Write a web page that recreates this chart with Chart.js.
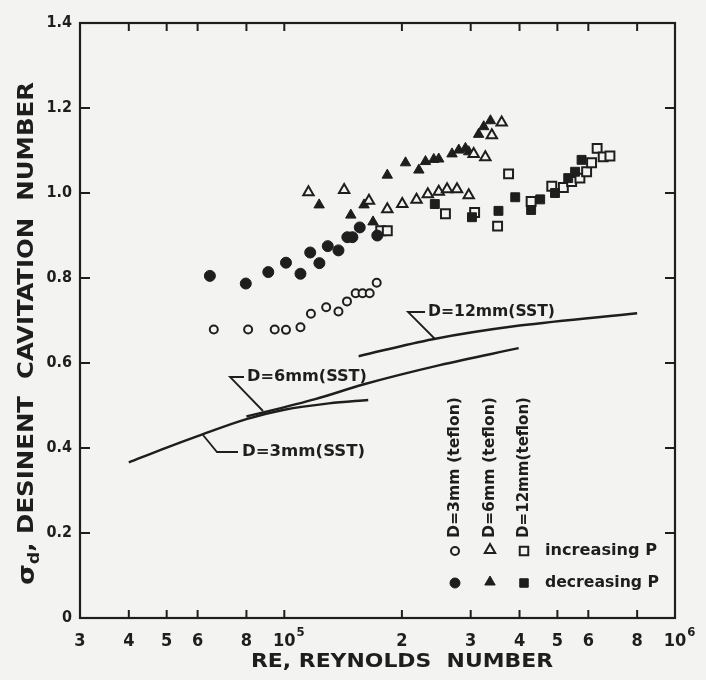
<!DOCTYPE html>
<html><head><meta charset="utf-8">
<script src="https://cdn.jsdelivr.net/npm/chart.js@4.4.1/dist/chart.umd.min.js"></script>
<style>html,body{margin:0;padding:0;background:#f3f3f1;}#wrap{width:706px;height:680px;position:relative;}</style>
</head><body><div id="wrap"><canvas id="c"></canvas></div>
<script>
// ---- tick labels ----
const xTickValues = [30000,40000,50000,60000,80000,100000,200000,300000,400000,500000,600000,800000,1000000];
const xTickLabels = ['3','4','5','6','8','10','2','3','4','5','6','8','10'];
const xTickExponents = ['','','','','','5','','','','','','','6'];
const yTickValues = [0,0.2,0.4,0.6,0.8,1.0,1.2,1.4];
const yTickLabels = ['0','0.2','0.4','0.6','0.8','1.0','1.2','1.4'];

// ---- D=3mm teflon ----
const d3IncRe = [66000,80800,94500,101000,110000,117000,128000,137600,144700,152300,158600,165400,172400];
const d3IncSigma = [0.679,0.679,0.679,0.678,0.684,0.716,0.731,0.721,0.745,0.764,0.764,0.764,0.789];
const d3DecRe = [64500,79700,91000,101000,110000,116500,123000,129200,137600,145000,149400,156000,173000];
const d3DecSigma = [0.805,0.787,0.814,0.836,0.810,0.860,0.835,0.875,0.865,0.896,0.896,0.919,0.900];
// ---- D=6mm teflon ----
const d6IncRe = [115300,142300,164700,183500,200400,218000,233000,248500,261000,276700,296500,305300,327000,339800,360000];
const d6IncSigma = [1.002,1.007,0.982,0.962,0.974,0.984,0.997,1.003,1.009,1.009,0.995,1.092,1.084,1.136,1.166];
const d6DecRe = [122800,148000,160000,168700,183500,204300,221000,229800,241300,248500,268700,279600,290800,296500,314300,323900,337000];
const d6DecSigma = [0.972,0.948,0.972,0.932,1.042,1.071,1.054,1.074,1.079,1.080,1.092,1.101,1.105,1.097,1.138,1.156,1.170];
// ---- D=12mm teflon ----
const d12IncRe = [176500,183500,258500,307000,351500,375000,428300,483700,517900,543800,571000,594000,611600,632000,655000,681500];
const d12IncSigma = [0.911,0.911,0.951,0.954,0.922,1.045,0.980,1.016,1.013,1.027,1.035,1.050,1.071,1.105,1.085,1.087];
const d12DecRe = [242800,302200,353300,390000,428300,451800,493000,533000,555000,576600];
const d12DecSigma = [0.974,0.943,0.958,0.990,0.960,0.985,1.000,1.035,1.050,1.078];
// ---- SST curves ----
const sst3Re = [40000,50000,60000,80000,100000,130000,164000];
const sst3Sigma = [0.366,0.401,0.428,0.468,0.490,0.505,0.513];
const sst6Re = [80000,120000,160000,250000,398000];
const sst6Sigma = [0.474,0.515,0.550,0.595,0.635];
const sst12Re = [155000,240000,400000,800000];
const sst12Sigma = [0.616,0.656,0.688,0.717];

const INK = '#1e1e1e';
const BG = '#f3f3f1';
const FONT = '"DejaVu Sans Condensed","Liberation Sans Narrow","DejaVu Sans",sans-serif';

function pts(xs, ys){ return xs.map((x,i)=>({x:x, y:ys[i]})); }
function scatterDs(xs, ys, style, filled, r){
  return {type:'scatter', data:pts(xs,ys), pointStyle:style, pointRadius:r, pointHoverRadius:r,
    borderColor:INK, borderWidth:filled?1:2, backgroundColor:filled?INK:BG, showLine:false};
}
function lineDs(xs, ys){
  return {type:'line', data:pts(xs,ys), borderColor:INK, borderWidth:2.5, pointRadius:0,
    cubicInterpolationMode:'monotone', fill:false};
}

function marker(ctx, style, x, y, r, filled){
  ctx.save();
  ctx.lineWidth = filled?1:2; ctx.strokeStyle = INK; ctx.fillStyle = filled?INK:BG;
  ctx.beginPath();
  if(style==='circle'){ ctx.arc(x,y,r,0,Math.PI*2); }
  else if(style==='triangle'){
    for(let k=0;k<3;k++){ const a=k*2*Math.PI/3; const px=x+Math.sin(a)*r, py=y-Math.cos(a)*r; k?ctx.lineTo(px,py):ctx.moveTo(px,py);} ctx.closePath();
  } else { const s=Math.SQRT1_2*r; ctx.rect(x-s,y-s,2*s,2*s); }
  ctx.fill(); ctx.stroke(); ctx.restore();
}
// draw text starting at (x,y) (left, middle) stretched horizontally to a given width
function fitText(ctx, text, x, y, width, font){
  ctx.save(); ctx.font=font; ctx.textAlign='left'; ctx.textBaseline='middle';
  const w=ctx.measureText(text).width;
  ctx.translate(x,y); ctx.scale(width/w,1); ctx.fillText(text,0,0); ctx.restore();
}

const decor = {
  id:'decor',
  beforeDraw(chart){
    const ctx=chart.ctx; ctx.save(); ctx.fillStyle=BG; ctx.fillRect(0,0,chart.width,chart.height); ctx.restore();
  },
  afterDatasetsDraw(chart){
    const ctx=chart.ctx, a=chart.chartArea, xs=chart.scales.x, ys=chart.scales.y;
    ctx.save();
    ctx.strokeStyle=INK; ctx.fillStyle=INK; ctx.lineWidth=2.2;
    ctx.strokeRect(a.left,a.top,a.right-a.left,a.bottom-a.top);
    // inward ticks
    ctx.lineWidth=2;
    xTickValues.forEach(v=>{
      if(v===xs.min||v===xs.max) return;
      const px=xs.getPixelForValue(v);
      ctx.beginPath(); ctx.moveTo(px,a.bottom); ctx.lineTo(px,a.bottom-8); ctx.stroke();
      ctx.beginPath(); ctx.moveTo(px,a.top); ctx.lineTo(px,a.top+8); ctx.stroke();
    });
    yTickValues.forEach(v=>{
      if(v===ys.min||v===ys.max) return;
      const py=ys.getPixelForValue(v);
      ctx.beginPath(); ctx.moveTo(a.left,py); ctx.lineTo(a.left+10,py); ctx.stroke();
      ctx.beginPath(); ctx.moveTo(a.right,py); ctx.lineTo(a.right-10,py); ctx.stroke();
    });
    // x tick labels
    ctx.textBaseline='middle';
    xTickValues.forEach((v,i)=>{
      const px=xs.getPixelForValue(v);
      ctx.font='bold 18px '+FONT; ctx.textAlign='center';
      const base=xTickLabels[i], ex=xTickExponents[i];
      if(ex){
        const w=ctx.measureText(base).width;
        ctx.fillText(base,px,a.bottom+23);
        ctx.font='bold 13px '+FONT; ctx.textAlign='left';
        ctx.fillText(ex,px+w/2+1,a.bottom+15);
      } else ctx.fillText(base,px,a.bottom+23);
    });
    // y tick labels
    ctx.font='bold 16px '+FONT; ctx.textAlign='right';
    yTickValues.forEach((v,i)=>{ ctx.fillText(yTickLabels[i],a.left-8,ys.getPixelForValue(v)); });
    // x axis title
    fitText(ctx,'RE, REYNOLDS  NUMBER',251,662,302,'bold 20px '+FONT);
    // y axis title (rotated) with subscript d
    ctx.save(); ctx.translate(28,585); ctx.rotate(-Math.PI/2);
    ctx.textAlign='left'; ctx.textBaseline='middle';
    const f1='bold 23px '+FONT, f2='bold 15px '+FONT, f3='bold 21px '+FONT, rest=', DESINENT  CAVITATION  NUMBER';
    ctx.font=f1; const w1=ctx.measureText('σ').width;
    ctx.font=f2; const w2=ctx.measureText('d').width;
    ctx.font=f3; const w3=ctx.measureText(rest).width;
    ctx.scale(503/(w1+w2+w3),1);
    ctx.font=f1; ctx.fillText('σ',0,0);
    ctx.font=f2; ctx.fillText('d',w1,7);
    ctx.font=f3; ctx.fillText(rest,w1+w2,0);
    ctx.restore();
    // curve annotations
    ctx.lineWidth=1.8;
    function leader(p){ ctx.beginPath(); ctx.moveTo(p[0][0],p[0][1]); for(let k=1;k<p.length;k++) ctx.lineTo(p[k][0],p[k][1]); ctx.stroke(); }
    fitText(ctx,'D=12mm(SST)',428,312,127,'bold 16px '+FONT); leader([[425,312],[408,312],[435,339]]);
    fitText(ctx,'D=6mm(SST)',247,377,120,'bold 16px '+FONT); leader([[244,377],[230,377],[263,411]]);
    fitText(ctx,'D=3mm(SST)',242,452,123,'bold 16px '+FONT); leader([[238,452],[217,452],[203,435]]);
    // legend
    [['D=3mm (teflon)',455],['D=6mm (teflon)',490],['D=12mm(teflon)',524]].forEach(t=>{
      ctx.save(); ctx.translate(t[1],538); ctx.rotate(-Math.PI/2);
      fitText(ctx,t[0],0,0,141,'bold 15px '+FONT); ctx.restore();
    });
    marker(ctx,'circle',455,551,4,false); marker(ctx,'triangle',490,550,6,false); marker(ctx,'rect',524,551,6,false);
    marker(ctx,'circle',455,583,5,true); marker(ctx,'triangle',490,582,6,true); marker(ctx,'rect',524,583,6,true);
    fitText(ctx,'increasing P',545,551,112,'bold 16px '+FONT);
    fitText(ctx,'decreasing P',545,583,114,'bold 16px '+FONT);
    ctx.restore();
  }
};

new Chart(document.getElementById('c'), {
  data:{datasets:[
    lineDs(sst3Re,sst3Sigma), lineDs(sst6Re,sst6Sigma), lineDs(sst12Re,sst12Sigma),
    scatterDs(d3IncRe,d3IncSigma,'circle',false,4),
    scatterDs(d3DecRe,d3DecSigma,'circle',true,5.5),
    scatterDs(d6IncRe,d6IncSigma,'triangle',false,6),
    scatterDs(d6DecRe,d6DecSigma,'triangle',true,6),
    scatterDs(d12DecRe,d12DecSigma,'rect',true,6.3),
    scatterDs(d12IncRe,d12IncSigma,'rect',false,6.3)
  ]},
  options:{
    responsive:true, maintainAspectRatio:false, animation:false,
    layout:{padding:{top:23,right:31,left:0,bottom:0}},
    plugins:{legend:{display:false},tooltip:{enabled:false}},
    scales:{
      x:{type:'logarithmic',min:30000,max:1000000,ticks:{display:false},grid:{display:false},border:{display:false},
        afterFit:s=>{s.height=62;}},
      y:{type:'linear',min:0,max:1.4,ticks:{display:false},grid:{display:false},border:{display:false},
        afterFit:s=>{s.width=80;}}
    }
  },
  plugins:[decor]
});
</script></body></html>
